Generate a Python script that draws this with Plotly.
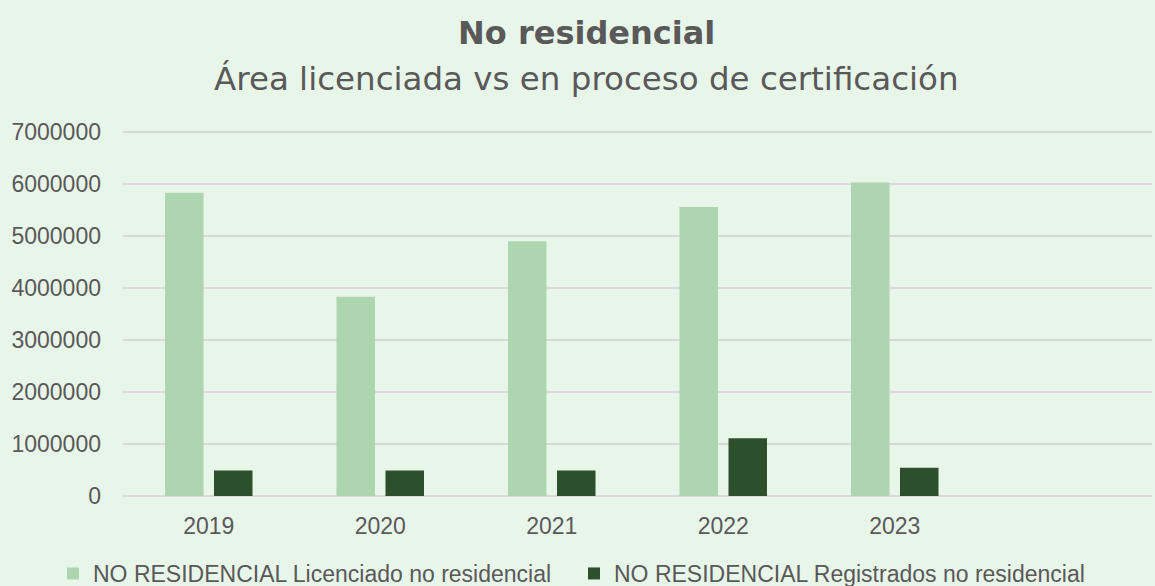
import plotly.graph_objects as go

# ---- data ----
years = ["2019", "2020", "2021", "2022", "2023"]
licenciado = [5830000, 3830000, 4900000, 5560000, 6030000]
registrados = [490000, 490000, 490000, 1110000, 545000]
series_names = [
    "NO RESIDENCIAL Licenciado no residencial",
    "NO RESIDENCIAL Registrados no residencial",
]
y_ticks = [0, 1000000, 2000000, 3000000, 4000000, 5000000, 6000000, 7000000]
title_text = "No residencial"
subtitle_text = "Área licenciada vs en proceso de certificación"

# ---- style ----
BG = "#E8F5E9"
LIGHT = "#ADD6B0"
DARK = "#2D4F2B"
TXT = "#595959"
GRID = "#D9D9D9"
W, H = 1155, 586
ML, MR, MT, MB = 123, 3, 131, 90
PW, PH = W - ML - MR, H - MT - MB


def px_x(x):
    return (x - ML) / PW


def px_y(y):
    return (H - MB - y) / PH


fig = go.Figure()
fig.add_trace(go.Bar(x=years, y=licenciado, name=series_names[0],
                     marker=dict(color=LIGHT, line=dict(width=0))))
fig.add_trace(go.Bar(x=years, y=registrados, name=series_names[1],
                     marker=dict(color=DARK, line=dict(width=0))))

fig.update_layout(
    width=W, height=H,
    margin=dict(l=ML, r=MR, t=MT, b=MB, autoexpand=False),
    paper_bgcolor=BG, plot_bgcolor=BG,
    barmode="group", bargap=0.4286, bargroupgap=0.214,
    font=dict(family="Liberation Sans, Arial, sans-serif", color=TXT, size=22),
    showlegend=True,
    legend=dict(orientation="h", x=px_x(53), xanchor="left",
                y=px_y(552), yanchor="top",
                font=dict(size=23, color=TXT, family="Liberation Sans, Arial, sans-serif"),
                entrywidth=476, entrywidthmode="pixels",
                bgcolor="rgba(0,0,0,0)", traceorder="normal"),
    xaxis=dict(type="category", range=[-0.5, 5.5], showgrid=False,
               showline=False, zeroline=False, ticks="",
               tickfont=dict(size=23, color=TXT), ticklabelstandoff=14),
    yaxis=dict(range=[0, 7020000], tickvals=y_ticks,
               ticktext=[str(v) for v in y_ticks],
               showgrid=True, gridcolor=GRID, gridwidth=2,
               zeroline=True, zerolinecolor=GRID, zerolinewidth=2,
               showline=False, ticks="",
               tickfont=dict(size=23, color=TXT), ticklabelstandoff=21),
    annotations=[
        dict(text="<b>" + title_text + "</b>", xref="paper", yref="paper",
             x=px_x(586.5), y=px_y(33), xanchor="center", yanchor="middle",
             showarrow=False,
             font=dict(family="DejaVu Sans, sans-serif", size=32, color=TXT)),
        dict(text=subtitle_text, xref="paper", yref="paper",
             x=px_x(586.5), y=px_y(79), xanchor="center", yanchor="middle",
             showarrow=False,
             font=dict(family="DejaVu Sans, sans-serif", size=32.5, color=TXT)),
    ],
)

fig.write_html(
    "out.html",
    config={"displayModeBar": False},
    post_script="document.body.style.margin='0px';"
                "document.body.style.background='" + BG + "';",
)
